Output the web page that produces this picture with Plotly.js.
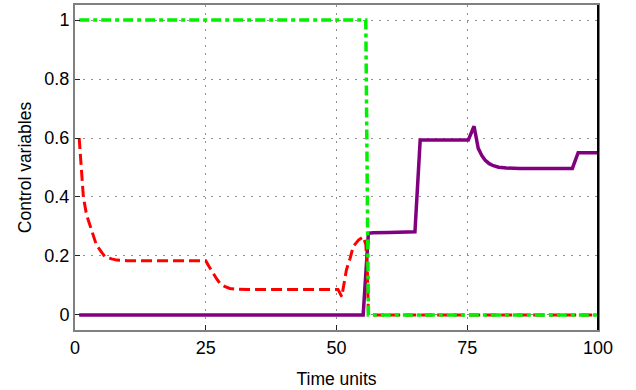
<!DOCTYPE html>
<html>
<head>
<meta charset="utf-8">
<script src="https://cdn.plot.ly/plotly-3.0.1.min.js"></script>
<style>html,body{margin:0;padding:0;background:#fff;}#chart{width:636px;height:390px;}</style>
</head>
<body>
<div id="chart"></div>
<script>
// Purple solid series
const timePurple = [0.8, 55.1, 56.1, 57, 60, 65, 66, 75.2, 76.3, 77.1, 77.8, 78.4, 79.2, 80, 81, 82.5, 85, 95.1, 96.2, 100];
const purpleVals = [0, 0, 0.277, 0.279, 0.28, 0.282, 0.593, 0.593, 0.64, 0.565, 0.54, 0.525, 0.513, 0.506, 0.501, 0.498, 0.497, 0.497, 0.55, 0.55];

// Red dashed series
const timeRed = [0.8, 1.2, 1.6, 2.2, 2.9, 3.5, 4.1, 5, 5.7, 7, 8, 10, 25, 25.6, 26.4, 27.1, 27.7, 28.6, 29.6, 31, 33, 50.3, 51, 51.5, 51.9, 52.6, 53.2, 54.2, 55.1, 55.6, 55.9, 56.1, 100];
const redVals = [0.6, 0.5, 0.40, 0.34, 0.30, 0.265, 0.237, 0.215, 0.198, 0.19, 0.186, 0.184, 0.184, 0.165, 0.141, 0.122, 0.107, 0.097, 0.09, 0.087, 0.086, 0.086, 0.062, 0.11, 0.153, 0.192, 0.232, 0.254, 0.265, 0.24, 0.15, 0, 0];

// Green dash-dot series
const timeGreen = [0.8, 55.6, 56.1, 100];
const greenVals = [1, 1, 0, 0];

const xTicks = [0, 25, 50, 75, 100];
const yTicks = [0, 0.2, 0.4, 0.6, 0.8, 1];
const yTickLabels = ['0', '0.2', '0.4', '0.6', '0.8', '1'];

const traces = [
  {x: timePurple, y: purpleVals, mode: 'lines', line: {color: '#800080', width: 3.5}, hoverinfo: 'skip'},
  {x: timeRed, y: redVals, mode: 'lines', line: {color: '#ff0000', width: 3, dash: '11px,5px'}, hoverinfo: 'skip'},
  {x: timeGreen, y: greenVals, mode: 'lines', line: {color: '#00f000', width: 3.5, dash: '10px,4px,4px,4px'}, hoverinfo: 'skip'}
];

const font = {family: 'Liberation Sans, Arial, sans-serif', size: 18, color: '#000'};

const layout = {
  width: 636, height: 390,
  margin: {l: 75, r: 38, t: 5, b: 60},
  showlegend: false,
  paper_bgcolor: '#fff', plot_bgcolor: '#fff',
  font: font,
  xaxis: {
    range: [0, 100], tickvals: xTicks, ticktext: xTicks.map(String),
    showgrid: true, gridcolor: '#909090', griddash: '2px,6px', gridwidth: 1,
    zeroline: false, showline: true, linecolor: '#808080', linewidth: 2, mirror: true,
    ticks: 'inside', ticklen: 5, tickcolor: '#222', tickfont: font,
    title: {text: 'Time units', font: {family: font.family, size: 17.5, color: '#000'}, standoff: 16}
  },
  yaxis: {
    range: [-0.051, 1.051], tickvals: yTicks, ticktext: yTickLabels,
    showgrid: true, gridcolor: '#909090', griddash: '2px,6px', gridwidth: 1,
    zeroline: false, showline: true, linecolor: '#808080', linewidth: 2, mirror: true,
    ticks: 'inside', ticklen: 5, tickcolor: '#222', tickfont: font,
    title: {text: 'Control variables', font: {family: font.family, size: 17.5, color: '#000'}, standoff: 8}
  },
  shapes: [
    {type: 'line', xref: 'paper', yref: 'paper', x0: 1, x1: 1, y0: 0, y1: 1, line: {color: '#000', width: 2}, layer: 'above'}
  ]
};

Plotly.newPlot('chart', traces, layout, {staticPlot: true, displayModeBar: false});
</script>
</body>
</html>
